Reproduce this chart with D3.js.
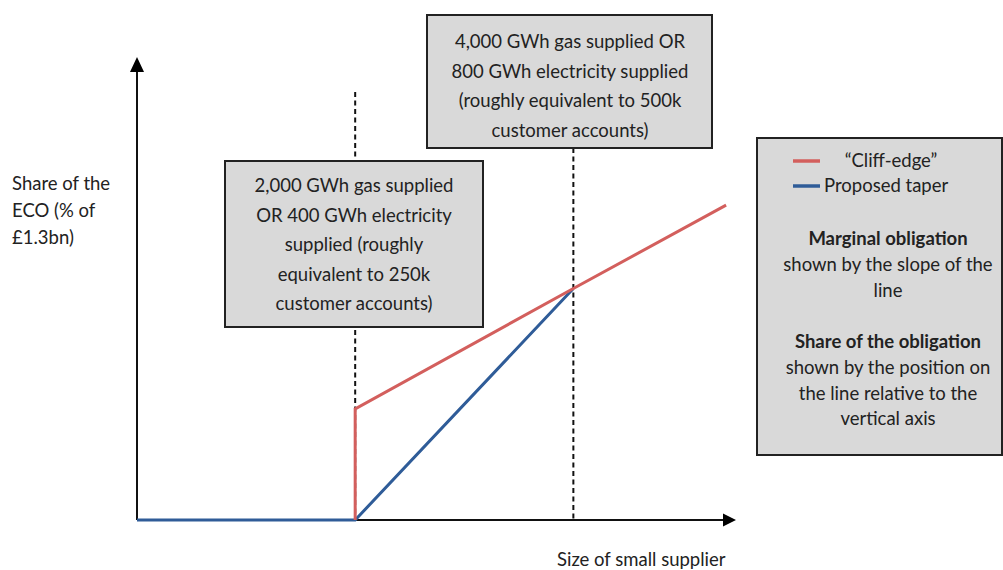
<!DOCTYPE html>
<html>
<head>
<meta charset="utf-8">
<script src="https://cdn.jsdelivr.net/npm/d3@7"></script>
<style>
  html, body { margin: 0; padding: 0; background: #fff; }
  svg { display: block; }
  text { font-family: Lato, "Open Sans", sans-serif; fill: #222; }
</style>
</head>
<body>
<svg id="chart" width="1003" height="570"></svg>
<script>
// Supplier size (GWh gas supplied) and share of the ECO for each schedule
const cliffEdgeSize  = [2000, 2000, 4000, 5400];
const cliffEdgeShare = [0, 2.4, 5.0, 6.8];
const taperSize      = [0, 2000, 4000];
const taperShare     = [0, 0, 5.0];
const thresholds     = [2000, 4000];

const thresholdNotes = [
  ["2,000 GWh gas supplied", "OR 400 GWh electricity", "supplied (roughly", "equivalent to 250k", "customer accounts)"],
  ["4,000 GWh gas supplied OR", "800 GWh electricity supplied", "(roughly equivalent to 500k", "customer accounts)"]
];
const legendLabels = ["\u201CCliff-edge\u201D", "Proposed taper"];
const notes = [
  { bold: "Marginal obligation", lines: ["shown by the slope of the", "line"] },
  { bold: "Share of the obligation", lines: ["shown by the position on", "the line relative to the", "vertical axis"] }
];
const yTitle = ["Share of the", "ECO (% of", "\u00A31.3bn)"];
const xTitle = "Size of small supplier";

const RED = "#d35f5d", BLUE = "#2f5c98";
const FS = 18.5;
const svg = d3.select("#chart");

const x = d3.scaleLinear().domain([0, 5500]).range([137, 737]);
const y = d3.scaleLinear().domain([0, 10]).range([520, 57]);

// Axes without ticks, ending in arrowheads
const x0 = x.range()[0], x1 = x.range()[1];
const y0 = y.range()[0], y1 = y.range()[1];
svg.append("g").attr("transform", `translate(0,${y0})`)
  .call(d3.axisBottom(x).tickValues([]).tickSizeOuter(0))
  .call(g => g.select(".domain").attr("stroke", "#111").attr("stroke-width", 2).attr("d", `M${x0},0H${x1 - 12}`));
svg.append("g").attr("transform", `translate(${x0},0)`)
  .call(d3.axisLeft(y).tickValues([]).tickSizeOuter(0))
  .call(g => g.select(".domain").attr("stroke", "#111").attr("stroke-width", 2).attr("d", `M0,${y0}V${y1 + 12}`));
svg.append("path").attr("fill", "#000")
  .attr("d", `M${x1 - 1},${y0} L${x1 - 14},${y0 - 6.5} L${x1 - 14},${y0 + 6.5} Z`);
svg.append("path").attr("fill", "#000")
  .attr("d", `M${x0},${y1} L${x0 - 7},${y1 + 15} L${x0 + 7},${y1 + 15} Z`);

// Threshold markers
const dashTop = [92, 148];
svg.selectAll("line.thr").data(thresholds).join("line")
  .attr("class", "thr")
  .attr("x1", d => x(d)).attr("x2", d => x(d))
  .attr("y1", (d, i) => dashTop[i]).attr("y2", y(0))
  .attr("stroke", "#111").attr("stroke-width", 2).attr("stroke-dasharray", "5,3.5");

// Schedules
const line = d3.line().x(d => x(d[0])).y(d => y(d[1]));
svg.append("path").datum(d3.zip(taperSize, taperShare))
  .attr("d", line).attr("fill", "none").attr("stroke", BLUE).attr("stroke-width", 3);
svg.append("path").datum(d3.zip(cliffEdgeSize, cliffEdgeShare))
  .attr("d", line).attr("fill", "none").attr("stroke", RED).attr("stroke-width", 3);

// Annotation boxes
const boxes = [
  { x: 225, y: 161, w: 258, h: 166, cx: 354, base: 192, step: 29.5 },
  { x: 427, y: 15, w: 285, h: 133, cx: 570, base: 48, step: 29.5 }
];
boxes.forEach((b, i) => {
  svg.append("rect").attr("x", b.x).attr("y", b.y).attr("width", b.w).attr("height", b.h)
    .attr("fill", "#d9d9d9").attr("stroke", "#222").attr("stroke-width", 2);
  svg.append("g").selectAll("text").data(thresholdNotes[i]).join("text")
    .attr("x", b.cx).attr("y", (d, j) => b.base + j * b.step)
    .attr("text-anchor", "middle").attr("font-size", FS).text(d => d);
});

// Legend panel
svg.append("rect").attr("x", 757).attr("y", 138).attr("width", 245).attr("height", 317)
  .attr("fill", "#d9d9d9").attr("stroke", "#222").attr("stroke-width", 2);
[RED, BLUE].forEach((c, i) => {
  svg.append("line").attr("x1", 793).attr("x2", 820).attr("y1", 161 + i * 25).attr("y2", 161 + i * 25)
    .attr("stroke", c).attr("stroke-width", 3.5);
});
svg.append("text").attr("x", 891).attr("y", 167).attr("text-anchor", "middle").attr("font-size", FS).text(legendLabels[0]);
svg.append("text").attr("x", 824).attr("y", 192).attr("font-size", FS).text(legendLabels[1]);

const noteBase = [245, 348];
notes.forEach((n, i) => {
  const g = svg.append("g");
  g.append("text").attr("x", 888).attr("y", noteBase[i]).attr("text-anchor", "middle")
    .attr("font-size", FS).attr("font-weight", "bold").text(n.bold);
  g.selectAll("text.l").data(n.lines).join("text").attr("class", "l")
    .attr("x", 888).attr("y", (d, j) => noteBase[i] + 26 + j * 25.5)
    .attr("text-anchor", "middle").attr("font-size", FS).text(d => d);
});

// Axis titles
svg.append("g").selectAll("text").data(yTitle).join("text")
  .attr("x", 12).attr("y", (d, i) => 190 + i * 27).attr("font-size", FS).text(d => d);
svg.append("text").attr("x", 557).attr("y", 566).attr("font-size", FS).text(xTitle);
</script>
</body>
</html>
